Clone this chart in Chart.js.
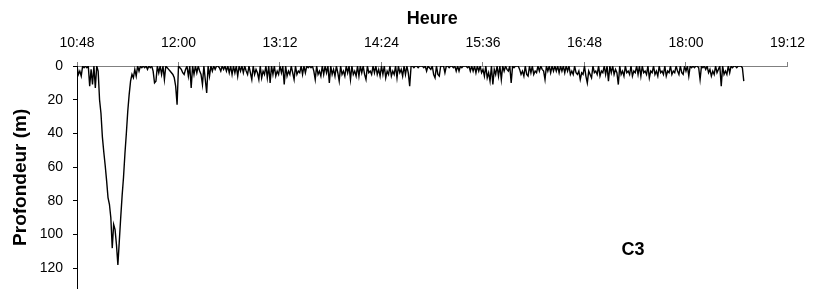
<!DOCTYPE html>
<html lang="fr">
<head>
<meta charset="utf-8">
<title>Profondeur C3</title>
<script src="https://cdn.jsdelivr.net/npm/chart.js@4.4.1/dist/chart.umd.min.js"></script>
<style>
  html, body { margin: 0; padding: 0; background: #fff; }
  canvas { display: block; }
</style>
</head>
<body>
<canvas id="profilChart" width="815" height="307"></canvas>
<script>
// profil de plongee C3 - profondeur relevee chaque minute

// -------------------------------
// donnees
// -------------------------------
const heureDebut = "10:48";   // premier releve
const pasMinutes = 1;         // intervalle entre releves

// profondeur (m), une valeur par minute
const profondeurs = [
  0, 5, 3, 6, 0, 1, 0, 1, 0, 12, 2, 11, 0, 13, 0, 3, 20, 28, 42, 51,
  59, 68, 78, 82, 90, 108, 94, 97, 106, 118, 104, 90, 77, 66, 52, 40, 27, 17, 9, 5,
  7, 2, 6, 0, 3, 0, 1, 0, 1, 0, 2, 0, 1, 0, 3, 10, 9, 0, 4, 0,
  5, 0, 8, 0, 1, 2, 3, 4, 5, 7, 12, 23, 0, 1, 2, 4, 5, 2, 0, 6,
  0, 13, 0, 5, 0, 4, 0, 3, 5, 11, 0, 8, 16, 0, 6, 0, 3, 0, 2, 0,
  0, 1, 3, 0, 2, 0, 3, 0, 4, 0, 5, 0, 4, 0, 6, 0, 3, 0, 4, 0,
  3, 5, 0, 4, 8, 0, 5, 2, 4, 8, 0, 7, 3, 5, 0, 7, 0, 10, 0, 5,
  0, 6, 3, 5, 0, 4, 0, 11, 0, 6, 3, 5, 0, 4, 8, 0, 5, 3, 4, 0,
  5, 0, 4, 0, 1, 0, 1, 0, 3, 8, 0, 5, 3, 6, 0, 5, 0, 4, 0, 10,
  0, 5, 2, 6, 0, 4, 9, 0, 5, 3, 6, 0, 4, 0, 8, 0, 5, 3, 6, 0,
  6, 0, 4, 0, 5, 8, 0, 4, 3, 5, 0, 4, 0, 5, 2, 6, 0, 5, 0, 7,
  3, 5, 0, 6, 3, 5, 0, 7, 0, 4, 2, 6, 0, 5, 0, 4, 12, 0, 0, 1,
  0, 0, 1, 0, 0, 0, 1, 0, 3, 0, 1, 2, 0, 5, 7, 0, 5, 6, 0, 0,
  0, 4, 0, 0, 1, 0, 0, 1, 0, 3, 0, 3, 0, 1, 0, 0, 0, 1, 0, 3,
  0, 3, 0, 4, 0, 3, 0, 4, 2, 6, 0, 7, 4, 9, 0, 11, 2, 5, 0, 6,
  0, 8, 0, 3, 0, 2, 3, 0, 10, 0, 1, 0, 0, 0, 2, 5, 3, 6, 0, 5,
  6, 0, 4, 0, 5, 3, 4, 0, 3, 0, 2, 3, 8, 0, 3, 0, 4, 0, 3, 0,
  3, 0, 4, 0, 3, 0, 4, 0, 3, 0, 5, 3, 5, 0, 4, 5, 3, 8, 4, 5,
  0, 6, 10, 3, 5, 7, 0, 4, 3, 5, 0, 6, 3, 4, 0, 5, 0, 9, 0, 4,
  0, 5, 2, 4, 11, 0, 5, 3, 6, 0, 4, 3, 5, 0, 6, 3, 4, 0, 5, 0,
  6, 0, 4, 3, 5, 0, 7, 3, 4, 0, 5, 3, 6, 0, 4, 3, 5, 0, 6, 3,
  4, 0, 5, 3, 4, 0, 3, 5, 0, 4, 5, 0, 3, 0, 6, 0, 1, 0, 1, 0,
  0, 1, 8, 0, 1, 0, 2, 0, 4, 2, 6, 3, 5, 0, 4, 2, 0, 12, 0, 5,
  3, 5, 0, 4, 0, 1, 0, 0, 1, 0, 0, 0, 1, 9
];

// graduations des axes
const heuresAxe = ["10:48", "12:00", "13:12", "14:24", "15:36", "16:48", "18:00", "19:12"];
const profondeursAxe = [0, 20, 40, 60, 80, 100, 120];

// -------------------------------
// helpers heure <-> minutes
// -------------------------------
function versMinutes(h) {
  const [hh, mm] = h.split(":").map(Number);
  return hh * 60 + mm;
}

function versHeure(min) {
  const hh = Math.floor(min / 60);
  const mm = Math.round(min % 60);
  return hh + ":" + String(mm).padStart(2, "0");
}

const debut = versMinutes(heureDebut);
const points = profondeurs.map((p, i) => ({ x: debut + i * pasMinutes, y: p }));

const police = "'Liberation Sans', Arial, sans-serif";

// etiquette C3 dans la zone du graphique
const etiquettePlugin = {
  id: "etiquette",
  afterDraw(chart) {
    const ctx = chart.ctx;
    ctx.save();
    ctx.font = "bold 18px " + police;
    ctx.fillStyle = "#000";
    ctx.textAlign = "center";
    ctx.textBaseline = "middle";
    ctx.fillText("C3", 633, 250);
    ctx.restore();
  }
};

// -------------------------------
// profil de plongee (line)
// -------------------------------
new Chart(document.getElementById("profilChart"), {
  type: "line",
  data: {
    datasets: [{
      label: "Profondeur",
      data: points,
      borderColor: "#000",
      borderWidth: 1.4,
      pointRadius: 0,
      tension: 0,
      fill: false
    }]
  },
  options: {
    responsive: false,
    animation: false,
    layout: { padding: { left: 0, top: 0, right: 25, bottom: 4 } },
    plugins: {
      legend: { display: false },
      tooltip: { enabled: false }
    },
    scales: {
      x: {
        type: "linear",
        position: "top",
        min: versMinutes(heuresAxe[0]),
        max: versMinutes(heuresAxe[heuresAxe.length - 1]),
        afterBuildTicks: (scale) => {
          scale.ticks = heuresAxe.map(h => ({ value: versMinutes(h) }));
        },
        afterFit: (scale) => { scale.height = 66; },
        ticks: {
          autoSkip: false,
          maxRotation: 0,
          padding: 10,
          color: "#000",
          font: { family: police, size: 14 },
          callback: (v) => versHeure(v)
        },
        grid: { drawOnChartArea: false, tickLength: 4, color: "#808080" },
        border: { color: "#808080" },
        title: {
          display: true,
          text: "Heure",
          color: "#000",
          padding: { top: 8, bottom: 0 },
          font: { family: police, size: 18, weight: "bold" }
        }
      },
      y: {
        reverse: true,
        min: 0,
        max: 132,
        afterBuildTicks: (scale) => {
          scale.ticks = profondeursAxe.map(v => ({ value: v }));
        },
        afterFit: (scale) => { scale.width = 77; },
        ticks: {
          padding: 10,
          color: "#000",
          font: { family: police, size: 14 }
        },
        grid: { drawOnChartArea: false, tickLength: 4, color: "#000" },
        border: { color: "#000" },
        title: {
          display: true,
          text: "Profondeur (m)",
          color: "#000",
          padding: { top: 9, bottom: 0 },
          font: { family: police, size: 19, weight: "bold" }
        }
      }
    }
  },
  plugins: [etiquettePlugin]
});
</script>
</body>
</html>
